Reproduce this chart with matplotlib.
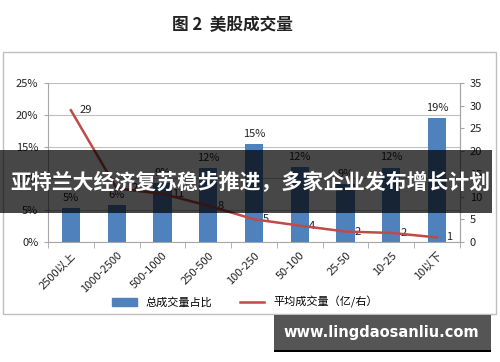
import matplotlib
matplotlib.use("Agg")
import matplotlib.pyplot as plt
import numpy as np
from matplotlib.patches import Rectangle

plt.rcParams['font.family'] = ['Noto Sans CJK SC', 'DejaVu Sans']
plt.rcParams['axes.unicode_minus'] = False

# 数据
categories = ['2500以上', '1000-2500', '500-1000', '250-500', '100-250',
              '50-100', '25-50', '10-25', '10以下']
share_pct = [5, 6, 9, 12, 15, 12, 9, 12, 19]        # 总成交量占比 (%)
bar_heights = [5.3, 5.8, 9.2, 11.6, 15.4, 11.8, 9.1, 11.7, 19.5]
avg_volume = [29, 12, 11, 8, 5, 4, 2, 2, 1]          # 平均成交量（亿/右）
avg_heights = [29, 11.8, 10.6, 8, 5, 3.6, 2.3, 2.0, 1.0]

bar_color = '#4F81BD'
line_color = '#BE4B48'
W, H = 500, 362

fig = plt.figure(figsize=(5, 3.62), dpi=100)
fig.patch.set_facecolor('white')

# 外框
fig.patches.append(Rectangle((3 / W, 1 - 314 / H), 493 / W, 262 / H,
                             transform=fig.transFigure, fill=False,
                             edgecolor='#BFBFBF', linewidth=1.0))

fig.text(232 / W, 1 - 25 / H, '图 2  美股成交量', ha='center', va='center',
         fontsize=12, fontweight='bold', color='#222222')

ax = fig.add_axes([48 / W, 1 - 242 / H, 412 / W, 159 / H])
x = np.arange(len(categories))
ax.bar(x, bar_heights, width=0.4, color=bar_color, zorder=3)
for xi, h, s in zip(x, bar_heights, share_pct):
    ax.text(xi, h + 0.8, f'{s}%', ha='center', va='bottom', fontsize=8,
            color='#222222', zorder=4)

ax.set_xlim(-0.5, len(categories) - 0.5)
ax.set_ylim(0, 25)
ax.set_yticks(np.arange(0, 26, 5))
ax.set_yticklabels([f'{v}%' for v in range(0, 26, 5)])
ax.yaxis.grid(True, color='#BFBFBF', linewidth=0.8, zorder=0)
ax.set_axisbelow(True)
ax.spines['top'].set_visible(False)
for side in ['left', 'right', 'bottom']:
    ax.spines[side].set_color('#A6A6A6')
ax.tick_params(axis='y', length=3, color='#A6A6A6', labelsize=8,
               labelcolor='#222222', pad=4)
ax.set_xticks(x)
ax.set_xticklabels(categories, rotation=45, ha='right', rotation_mode='anchor',
                   fontsize=8, color='#222222')
ax.tick_params(axis='x', which='major', length=0, pad=6)
ax.set_xticks(np.arange(-0.5, len(categories), 1), minor=True)
ax.tick_params(axis='x', which='minor', length=4, color='#A6A6A6')

ax2 = ax.twinx()
ax2.plot(x, avg_heights, color=line_color, linewidth=1.8, zorder=5)
for xi, h, v in zip(x, avg_heights, avg_volume):
    ax2.text(xi + 0.2, h, str(v), ha='left', va='center', fontsize=8,
             color='#222222')
ax2.set_ylim(0, 35)
ax2.set_yticks(np.arange(0, 36, 5))
ax2.tick_params(axis='y', length=3, color='#A6A6A6', labelsize=8,
                labelcolor='#222222', pad=4)
for side in ['top', 'left', 'bottom']:
    ax2.spines[side].set_visible(False)
ax2.spines['right'].set_color('#A6A6A6')

# 图例
h1 = Rectangle((0, 0), 1, 1, color=bar_color)
h2 = plt.Line2D([0], [0], color=line_color, linewidth=1.8)
fig.legend([h1, h2], ['总成交量占比', '平均成交量（亿/右）'], ncol=2,
           loc='center', bbox_to_anchor=(245 / W, 1 - 302 / H), frameon=False,
           fontsize=8, handlelength=2.2, columnspacing=2.5)

# 横幅
fig.patches.append(Rectangle((0, 1 - 213 / H), 492 / W, 63 / H,
                             transform=fig.transFigure, facecolor='black',
                             alpha=0.72, edgecolor='none', zorder=10))
fig.text(250 / W, 1 - 182 / H, '亚特兰大经济复苏稳步推进，多家企业发布增长计划',
         ha='center', va='center', fontsize=15, fontweight='bold',
         color='white', zorder=11)

# 水印
fig.patches.append(Rectangle((274 / W, 1 - 350 / H), 217 / W, 35 / H,
                             transform=fig.transFigure, facecolor='#555555',
                             edgecolor='none', zorder=10))
fig.patches.append(Rectangle((274 / W, 1 - 352 / H), 217 / W, 2 / H,
                             transform=fig.transFigure, facecolor='black',
                             edgecolor='none', zorder=10))
fig.text(381 / W, 1 - 333 / H, 'www.lingdaosanliu.com', ha='center',
         va='center', fontsize=10.5, fontweight='bold', color='white',
         family='DejaVu Sans', zorder=11)

fig.savefig('out.png', dpi=100)
